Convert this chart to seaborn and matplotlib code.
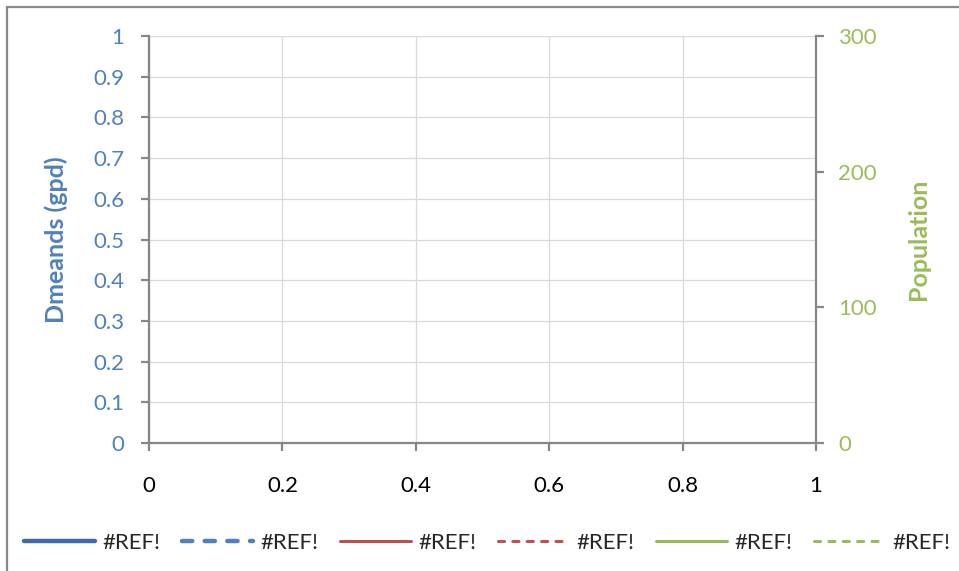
import matplotlib
matplotlib.use("Agg")
import matplotlib.pyplot as plt
import seaborn as sns
from matplotlib.patches import Rectangle

# Series data (all references are broken, so every series is empty)
series_names = ["#REF!", "#REF!", "#REF!", "#REF!", "#REF!", "#REF!"]
series_x = [[], [], [], [], [], []]
series_y = [[], [], [], [], [], []]

x_ticks = [0, 0.2, 0.4, 0.6, 0.8, 1]
x_labels = ["0", "0.2", "0.4", "0.6", "0.8", "1"]
left_ticks = [0, 0.1, 0.2, 0.3, 0.4, 0.5, 0.6, 0.7, 0.8, 0.9, 1]
left_labels = ["0", "0.1", "0.2", "0.3", "0.4", "0.5", "0.6", "0.7", "0.8", "0.9", "1"]
right_ticks = [0, 100, 200, 300]

sns.set_theme(style="white")
plt.rcParams['font.family'] = ['Lato', 'DejaVu Sans']

blue = "#4F81BD"
green = "#9BBB59"
axis_gray = "#868686"

fig = plt.figure(figsize=(9.59, 5.71), dpi=100)
ax = fig.add_axes([149 / 959, 1 - 443 / 571, (816 - 149) / 959, (443 - 36) / 571])
ax2 = ax.twinx()

styles = [
    dict(color="#3D6BA8", lw=3.2, ls="-"),
    dict(color=blue, lw=3.2, ls=(0, (2.3, 2.8))),
    dict(color="#C0504D", lw=2.2, ls="-"),
    dict(color="#C0504D", lw=2.2, ls=(0, (2.0, 2.7))),
    dict(color=green, lw=2.2, ls="-"),
    dict(color=green, lw=2.2, ls=(0, (2.0, 2.7))),
]
handles = []
for i, name in enumerate(series_names):
    target = ax if i < 4 else ax2
    h, = target.plot(series_x[i], series_y[i], label=name, solid_capstyle="round",
                     dash_capstyle="round", **styles[i])
    handles.append(h)

ax.set_xlim(0, 1)
ax.set_ylim(0, 1)
ax2.set_ylim(0, 300)

fs = 16
ax.set_xticks(x_ticks)
ax.set_xticklabels(x_labels, fontsize=fs, color="black")
ax.set_yticks(left_ticks)
ax.set_yticklabels(left_labels, fontsize=fs, color=blue)
ax2.set_yticks(right_ticks)
ax2.set_yticklabels([str(t) for t in right_ticks], fontsize=fs, color=green)

ax.grid(True, color="#D9D9D9", lw=0.9)
ax2.grid(False)

for a in (ax, ax2):
    for s in a.spines.values():
        s.set_visible(False)
ax.spines["left"].set_visible(True)
ax.spines["bottom"].set_visible(True)
ax2.spines["right"].set_visible(True)
for s in (ax.spines["left"], ax.spines["bottom"], ax2.spines["right"]):
    s.set_color(axis_gray)
    s.set_linewidth(1.6)

ax.tick_params(axis="both", direction="out", length=6, width=1.6, color=axis_gray,
               left=True, bottom=True)
ax.tick_params(axis="y", pad=12)
ax.tick_params(axis="x", pad=18)
ax2.tick_params(axis="y", direction="out", length=6, width=1.6, color=axis_gray,
                right=True, pad=10)

ax.set_ylabel("Dmeands (gpd)", fontsize=18, fontweight="bold", color=blue)
ax.yaxis.set_label_coords(-0.121, 0.5)
ax2.set_ylabel("Population", fontsize=18, fontweight="bold", color=green)
ax2.yaxis.set_label_coords(1.136, 0.5)

fig.legend(handles=handles, labels=series_names, loc="center", ncol=6,
           bbox_to_anchor=(0.508, 1 - 543 / 571), frameon=False, fontsize=fs,
           handlelength=3.2, handletextpad=0.3, columnspacing=1.0)

fig.patches.append(Rectangle((6.5 / 959, -0.1), 1.2, 1 - 6.5 / 571 + 0.1,
                             transform=fig.transFigure, fill=False,
                             edgecolor="#898989", lw=1.6))

fig.savefig("out.png", dpi=100)
